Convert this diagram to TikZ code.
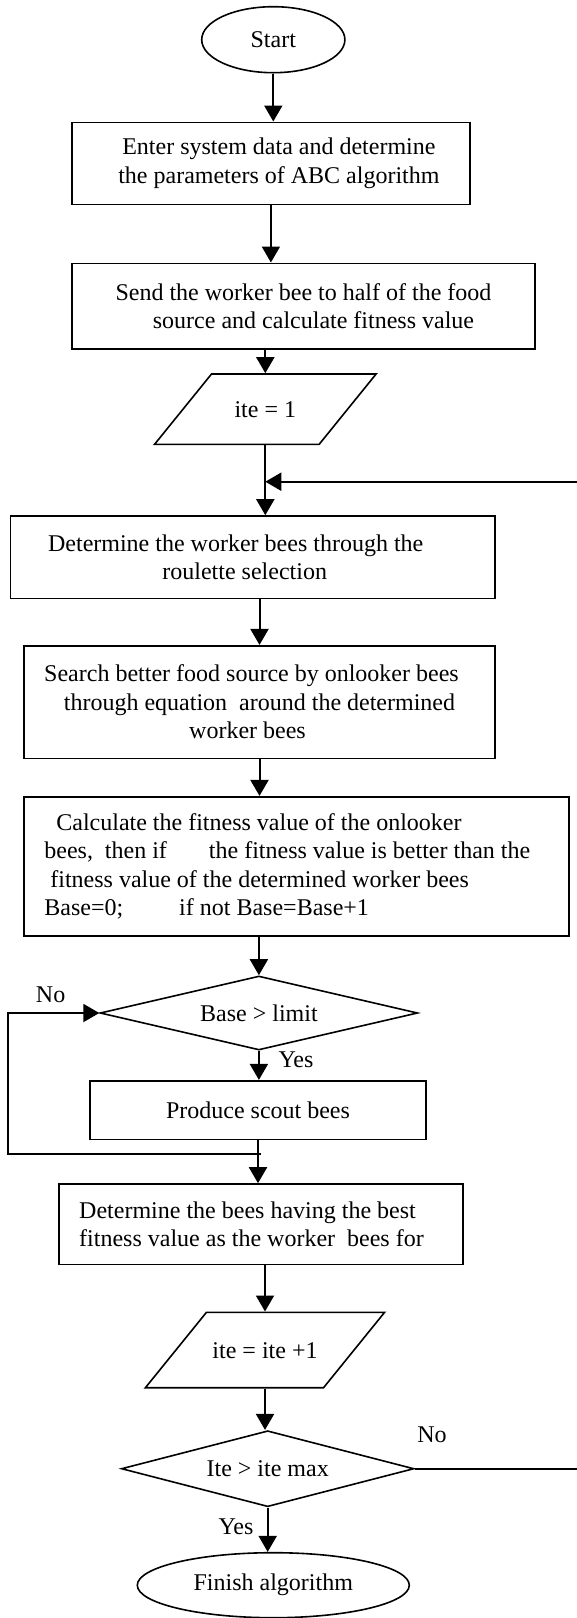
\documentclass[tikz,border=0pt]{standalone}
\usepackage{fontspec}
\setmainfont{Liberation Serif}
\usetikzlibrary{shapes.geometric,arrows.meta}

\begin{document}
\begin{tikzpicture}[x=.5pt,y=-.5pt,
    every node/.style={font=\fontsize{12}{14.2}\selectfont},
    box/.style={draw, rectangle, line width=.8pt, inner sep=0pt, align=center},
    io/.style={draw, trapezium, trapezium left angle=51, trapezium right angle=129,
               trapezium stretches body, line width=.8pt, inner xsep=0pt,
               text height=8pt, text depth=0pt},
    decision/.style={draw, diamond, line width=.8pt, inner sep=0pt},
    terminal/.style={draw, ellipse, line width=.8pt, inner sep=0pt},
    flow/.style={line width=1pt, -{Triangle[length=8pt,width=9pt]}}]
            \useasboundingbox (0,0) rectangle (577,1618);

            \node[terminal, minimum width=71.6pt, minimum height=33pt] (start) at (273.3,39.7) {Start};
            \node[box, minimum width=199.1pt, minimum height=41pt] (enter) at (270.9,163.3)
                {\hspace*{8pt}Enter system data and determine\\ \hspace*{8pt}the parameters of ABC algorithm};
            \node[box, minimum width=231.4pt, minimum height=42.9pt] (send) at (303.5,306.2)
                {Send the worker bee to half of the food\\ \hspace*{10pt}source and calculate fitness value};
            \node[io, minimum width=110.8pt, inner ysep=13.6pt] (ite1) at (265.3,409.2) {ite = 1};
            \node[box, minimum width=242.4pt, minimum height=41.2pt] (roul) at (252.7,557.2)
                {Determine the worker bees through the\hspace*{17pt}\\ roulette selection\hspace*{8pt}};
            \node[box, minimum width=235.6pt, minimum height=56.3pt] (search) at (259.5,702)
                {Search better food source by onlooker bees\hspace*{8pt}\\ through equation\ \ around the determined\hspace*{13pt}\\ worker bees\hspace*{12pt}};
            \node[box, align=left, minimum width=272.4pt, minimum height=69.7pt] (calc) at (296.3,866.4)
                {\hspace*{6pt}Calculate the fitness value of the onlooker\\
                 bees,\ \ then if\hspace{18pt} the fitness value is better than the\rule{9pt}{0pt}\\
                 \hspace*{3pt}fitness value of the determined worker bees\\
                 Base=0;\hspace{25pt} if not Base=Base+1};
            \node[decision, aspect=4.3, minimum width=158.8pt, minimum height=37pt] (base) at (258.9,1013) {Base > limit};
            \node[box, minimum width=167.8pt, minimum height=29.3pt] (scout) at (258,1110) {Produce scout bees};
            \node[box, align=left, minimum width=202pt, minimum height=40.2pt] (best) at (261,1224.2)
                {Determine the bees having the best\\ fitness value as the worker\ \ bees for\rule{9.5pt}{0pt}};
            \node[io, minimum width=119.6pt, inner ysep=14.85pt] (ite2) at (265,1350) {ite = ite +1};
            \node[decision, aspect=3.85, minimum width=146.3pt, minimum height=38pt] (itemax) at (267.7,1468.7) {Ite > ite max};
            \node[terminal, minimum width=136pt, minimum height=32.5pt] (finish) at (273.3,1585.2) {Finish algorithm};

            \node (no1) at (50.6,995) {No};
            \node (yes1) at (296,1059.3) {Yes};
            \node (no2) at (432,1435) {No};
            \node (yes2) at (236,1527) {Yes};

            \coordinate (join) at (265.3,481.7);
            \coordinate (merge) at (260.6,1154);

            \draw[flow] (start.south) -- (start.south |- enter.north);
            \draw[flow] (enter.south) -- (enter.south |- send.north);
            \draw[flow] (send.south -| ite1.north) -- (ite1.north);
            \draw[flow] (ite1.south) -- (ite1.south |- roul.north);
            \draw[flow] (roul.south -| search.north) -- (search.north);
            \draw[flow] (search.south) -- (search.south |- calc.north);
            \draw[flow] (calc.south -| base.north) -- (base.north);
            \draw[flow] (base.south) -- (base.south |- scout.north);
            \draw[flow] (scout.south) -- (scout.south |- best.north);
            \draw[flow] (best.south -| ite2.north) -- (ite2.north);
            \draw[flow] (ite2.south) -- (ite2.south |- itemax.north);
            \draw[flow] (itemax.south) -- (itemax.south |- finish.north);

            \draw[flow] (merge) -| (8.1,1013) -- (base.west);
            \draw[flow] (itemax.east) -- ++(200,0) |- (join);

\end{tikzpicture}
\end{document}
